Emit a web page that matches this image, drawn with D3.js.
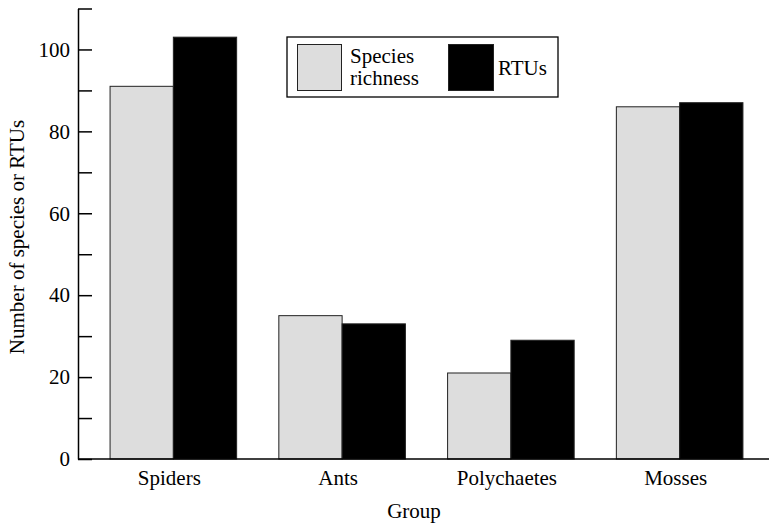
<!DOCTYPE html>
<html>
<head>
<meta charset="utf-8">
<script src="https://cdn.jsdelivr.net/npm/d3@7"></script>
<style>
  body { margin: 0; background: #fff; }
  svg { display: block; }
  svg text { font-family: "Liberation Serif", "Times New Roman", Times, "DejaVu Serif", serif; fill: #000; }
</style>
</head>
<body>
<svg id="chart" width="769" height="525"></svg>
<script>
const groups = ["Spiders", "Ants", "Polychaetes", "Mosses"];
const seriesNames = ["Species richness", "RTUs"];
const speciesRichness = [91, 35, 21, 86];
const rtus = [103, 33, 29, 87];
const yTicks = [0, 10, 20, 30, 40, 50, 60, 70, 80, 90, 100, 110];
const colors = ["#dddddd", "#000000"];

const FS = 21;
const svg = d3.select("#chart");
const axisX = 78, baseY = 459, topY = 8.5;

const x = d3.scaleBand().domain(groups).range([axisX, 775])
  .paddingInner(0.25).paddingOuter(0.19);
const xs = d3.scaleBand().domain(seriesNames).range([0, x.bandwidth()]);
const y = d3.scaleLinear().domain([0, 110]).range([baseY, topY]);

const data = groups.map((g, i) => ({ group: g, values: [speciesRichness[i], rtus[i]] }));

// bars
const gBars = svg.append("g");
data.forEach(d => {
  d.values.forEach((v, j) => {
    gBars.append("rect")
      .attr("x", x(d.group) + xs(seriesNames[j]))
      .attr("y", y(v))
      .attr("width", xs.bandwidth())
      .attr("height", y(0) - y(v))
      .attr("fill", colors[j])
      .attr("stroke", "#222")
      .attr("stroke-width", 1);
  });
});

// y axis
const yAxis = d3.axisLeft(y).tickValues(yTicks)
  .tickFormat(d => d % 20 === 0 ? d : "")
  .tickSizeInner(-14).tickSizeOuter(0).tickPadding(8);
const gy = svg.append("g").attr("transform", `translate(${axisX},0)`).call(yAxis);
gy.attr("font-family", null).attr("font-size", null);
gy.select(".domain").attr("stroke", "#000").attr("stroke-width", 1.5);
gy.selectAll(".tick line").attr("stroke", "#000").attr("stroke-width", 1.5);
gy.selectAll(".tick text").attr("font-size", FS);

// x axis
const xAxis = d3.axisBottom(x).tickSize(0).tickPadding(11);
const gx = svg.append("g").attr("transform", `translate(0,${baseY})`).call(xAxis);
gx.attr("font-family", null).attr("font-size", null);
gx.select(".domain").remove();
gx.selectAll(".tick text").attr("font-size", FS).attr("dx", -4);
svg.append("line").attr("x1", axisX).attr("x2", 769)
  .attr("y1", baseY).attr("y2", baseY)
  .attr("stroke", "#000").attr("stroke-width", 1.5);

// axis titles
svg.append("text").attr("x", 414).attr("y", 518)
  .attr("text-anchor", "middle").attr("font-size", FS).text("Group");
svg.append("text").attr("transform", "translate(24,237) rotate(-90)")
  .attr("text-anchor", "middle").attr("font-size", FS).text("Number of species or RTUs");

// legend
const lg = svg.append("g");
lg.append("rect").attr("x", 287).attr("y", 37).attr("width", 271).attr("height", 60)
  .attr("fill", "#fff").attr("stroke", "#000").attr("stroke-width", 1.3);
lg.append("rect").attr("x", 297.5).attr("y", 44.5).attr("width", 44).attr("height", 46)
  .attr("fill", colors[0]).attr("stroke", "#222").attr("stroke-width", 1);
lg.append("text").attr("x", 350).attr("y", 63).attr("font-size", FS).text("Species");
lg.append("text").attr("x", 350).attr("y", 85).attr("font-size", FS).text("richness");
lg.append("rect").attr("x", 448.5).attr("y", 44.5).attr("width", 45).attr("height", 46)
  .attr("fill", colors[1]).attr("stroke", "#222").attr("stroke-width", 1);
lg.append("text").attr("x", 498).attr("y", 75).attr("font-size", FS).text("RTUs");
</script>
</body>
</html>
